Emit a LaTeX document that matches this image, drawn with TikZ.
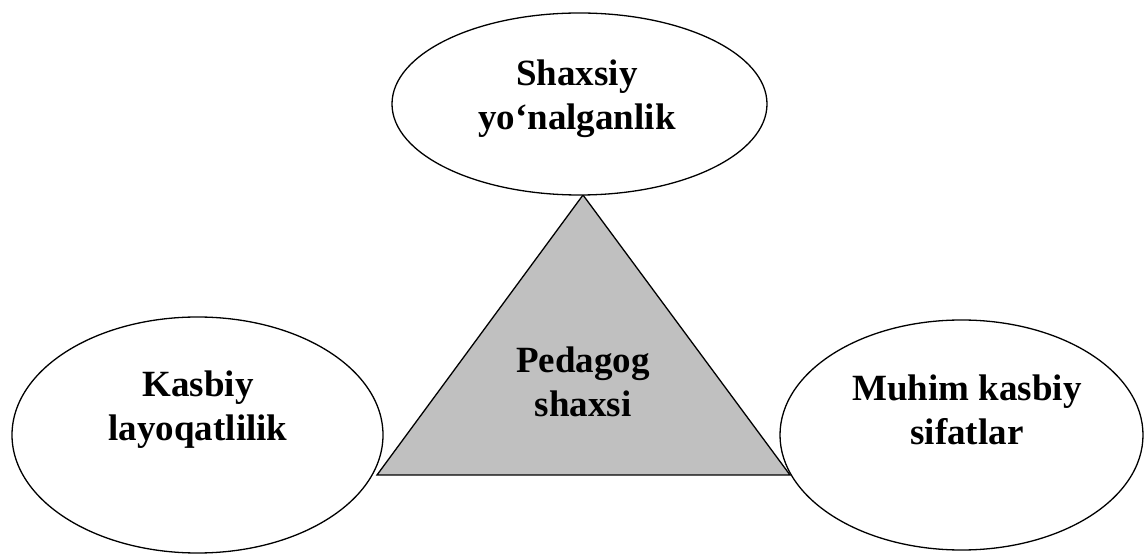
\documentclass[tikz,border=0pt]{standalone}
\usepackage{fontspec}
\setmainfont{Liberation Serif}
\usetikzlibrary{shapes.geometric}
\definecolor{pedgray}{HTML}{C0C0C0}

\begin{document}
\begin{tikzpicture}[x=0.5pt, y=-0.5pt,
   line width=0.65pt,
   oval/.style={draw, ellipse, fill=white, inner sep=0pt},
   caption/.style={align=center, inner sep=0pt,
                   font=\bfseries\fontsize{18.5}{22}\selectfont}]

\useasboundingbox (0,0) rectangle (1146,555);

% triangle in the middle
\coordinate (apex) at (583,195);
\coordinate (left corner) at (377,475);
\coordinate (right corner) at (790,475);
\filldraw[fill=pedgray] (apex) -- (left corner) -- (right corner) -- cycle;
\node[caption] (pedagog) at (583,382) {Pedagog\\shaxsi};

% the three ellipses
\node[oval, minimum width=187.5pt, minimum height=91pt] (shaxsiy) at (579.5,104) {};
\node[oval, minimum width=185.5pt, minimum height=118pt] (kasbiy) at (197.5,435) {};
\node[oval, minimum width=181.5pt, minimum height=115pt] (muhim) at (961.5,435) {};

\node[caption] (shaxsiy text) at (577,99) {Shaxsiy\\yo‘nalganlik};
\node[caption] (kasbiy text) at (198,410) {Kasbiy\\layoqatlilik};
\node[caption] (muhim text) at (967,410) {Muhim kasbiy\\sifatlar};

\end{tikzpicture}
\end{document}
